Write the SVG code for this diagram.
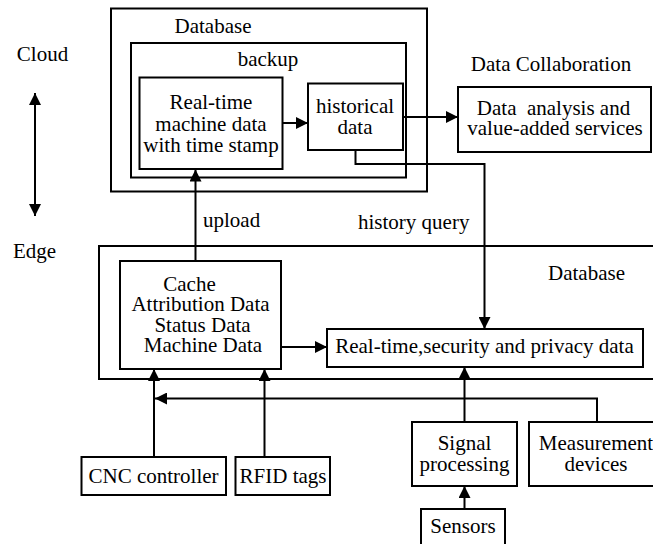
<svg xmlns="http://www.w3.org/2000/svg" width="653" height="544" viewBox="0 0 653 544">
  <style>
    .box { fill: #fff; stroke: #000; stroke-width: 2; }
    .frame { fill: none; stroke: #000; stroke-width: 2; }
    .wire { fill: none; stroke: #000; stroke-width: 2; }
    text { font-family: "Liberation Serif", "Times New Roman", serif; font-size: 21px; fill: #000; }
    .c { text-anchor: middle; }
  </style>
  <defs>
    <marker id="head" markerUnits="userSpaceOnUse" markerWidth="13" markerHeight="12" refX="12" refY="6" orient="auto-start-reverse">
      <path d="M0,0 L12,6 L0,12 z" fill="#000"/>
    </marker>
  </defs>

  <rect width="653" height="544" fill="#fff"/>

  <!-- tier labels -->
  <g id="tier-labels">
    <text class="c" x="42.5" y="61">Cloud</text>
    <text class="c" x="34.5" y="258">Edge</text>
  </g>

  <!-- cloud database with backup area -->
  <g id="cloud-database">
    <rect class="frame" x="111" y="8.5" width="316" height="183"/>
    <text class="c" x="213" y="33">Database</text>
  </g>
  <g id="cloud-backup">
    <rect class="frame" x="131" y="43" width="275" height="134.5"/>
    <text class="c" x="268" y="66">backup</text>
  </g>
  <g id="realtime-machine-data">
    <rect class="box" x="139.5" y="77.5" width="143" height="91.5"/>
    <text class="c" x="211" y="108.5">Real-time</text>
    <text class="c" x="211" y="130.5">machine data</text>
    <text class="c" x="211" y="152">with time stamp</text>
  </g>
  <g id="historical-data">
    <rect class="box" x="308" y="83.5" width="95" height="66.5"/>
    <text class="c" x="355" y="112.5">historical</text>
    <text class="c" x="355" y="133.5">data</text>
  </g>

  <!-- collaboration services -->
  <g id="data-collaboration">
    <text class="c" x="551" y="70.5">Data Collaboration</text>
    <rect class="box" x="458" y="87" width="193" height="65"/>
    <text class="c" x="553.5" y="115" xml:space="preserve">Data  analysis and</text>
    <text class="c" x="555" y="135">value-added services</text>
  </g>

  <!-- edge database -->
  <g id="edge-database">
    <rect class="frame" x="99" y="246" width="570" height="133"/>
    <text class="c" x="586.5" y="279.5">Database</text>
  </g>
  <g id="edge-cache">
    <rect class="box" x="120" y="261" width="161" height="108"/>
    <text class="c" x="189.5" y="290.5">Cache</text>
    <text class="c" x="200.5" y="311">Attribution Data</text>
    <text class="c" x="202.5" y="331.5">Status Data</text>
    <text class="c" x="203" y="352">Machine Data</text>
  </g>
  <g id="secure-data">
    <rect class="box" x="327" y="329" width="316" height="38"/>
    <text class="c" x="484.5" y="353">Real-time,security and privacy data</text>
  </g>

  <!-- field devices -->
  <g id="cnc-controller">
    <rect class="box" x="81.5" y="457" width="144.5" height="38"/>
    <text class="c" x="153.5" y="482.5">CNC controller</text>
  </g>
  <g id="rfid-tags">
    <rect class="box" x="235.5" y="457" width="94.5" height="38"/>
    <text class="c" x="283" y="482.5">RFID tags</text>
  </g>
  <g id="signal-processing">
    <rect class="box" x="412" y="422" width="105" height="64"/>
    <text class="c" x="464.5" y="450">Signal</text>
    <text class="c" x="464.5" y="471">processing</text>
  </g>
  <g id="measurement-devices">
    <rect class="box" x="529" y="422" width="140" height="64"/>
    <text class="c" x="596" y="450">Measurement</text>
    <text class="c" x="596" y="471">devices</text>
  </g>
  <g id="sensors">
    <rect class="box" x="421" y="509" width="84" height="50"/>
    <text class="c" x="463" y="533">Sensors</text>
  </g>

  <!-- connectors -->
  <g id="connectors">
    <path class="wire" d="M35,93 V216" marker-start="url(#head)" marker-end="url(#head)"/>
    <path class="wire" d="M283,123 H308" marker-end="url(#head)"/>
    <path class="wire" d="M403,117 H458" marker-end="url(#head)"/>
    <path class="wire" d="M355.5,150 V164 H484.5 V329" marker-end="url(#head)"/>
    <path class="wire" d="M195.5,261 V169.5" marker-end="url(#head)"/>
    <path class="wire" d="M281,347 H327" marker-end="url(#head)"/>
    <path class="wire" d="M154,457 V369" marker-end="url(#head)"/>
    <path class="wire" d="M264.5,457 V369" marker-end="url(#head)"/>
    <path class="wire" d="M464.5,422 V367" marker-end="url(#head)"/>
    <path class="wire" d="M464.5,509 V486" marker-end="url(#head)"/>
    <path class="wire" d="M597,422 V398.5 H155" marker-end="url(#head)"/>
    <text x="203" y="227">upload</text>
    <text x="358" y="229">history query</text>
  </g>
</svg>
